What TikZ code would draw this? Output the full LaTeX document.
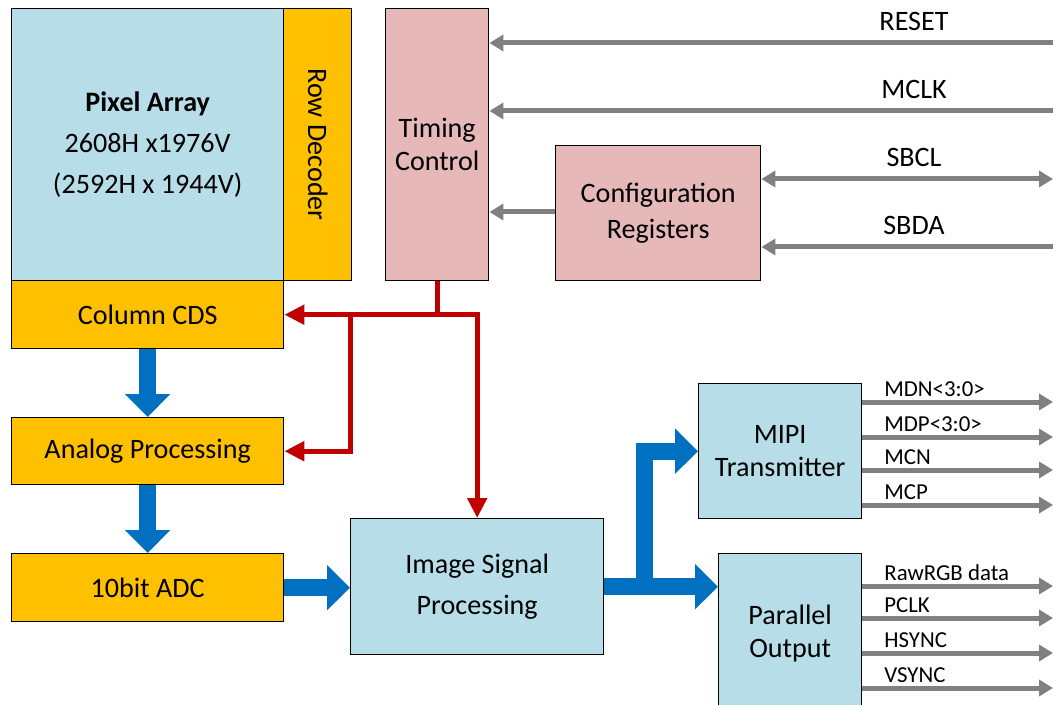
\documentclass[tikz,border=0pt]{standalone}
\usepackage{fontspec}
\setmainfont{Carlito}
\usepackage{graphicx}
\usetikzlibrary{arrows.meta, positioning, calc}

\definecolor{pixblue}{RGB}{183,221,232}
\definecolor{decgold}{RGB}{255,192,0}
\definecolor{regpink}{RGB}{230,184,183}
\definecolor{ctlred}{RGB}{192,0,0}
\definecolor{flowblue}{RGB}{0,112,192}
\definecolor{sigray}{RGB}{128,128,128}

\begin{document}
\begin{tikzpicture}[x=0.02cm, y=-0.02cm,
        block/.style={draw, line width=0.8pt, anchor=north west, align=center, inner sep=0pt, font=\fontsize{16}{19}\selectfont},
        analog/.style={block, fill=decgold},
        digital/.style={block, fill=pixblue},
        ctrl/.style={block, fill=regpink},
        flow/.style={draw=flowblue, line width=0.34cm, -{Triangle[width=0.88cm, length=0.46cm]}},
        ctl/.style={draw=ctlred, line width=0.1cm, -{Triangle[width=0.38cm, length=0.4cm]}},
        sig/.style={draw=sigray, line width=0.1cm, >={Triangle[width=0.32cm, length=0.28cm]}, ->},
        siglabel/.style={font=\fontsize{16}{19}\selectfont, inner sep=0pt, anchor=base},
        outlabel/.style={font=\fontsize{13}{15}\selectfont, inner sep=0pt, anchor=base west}
    ]
    \useasboundingbox (0,0) rectangle (1053,705);

    % Sensor core
    \node[digital, minimum width=5.44cm, minimum height=5.44cm, font=\fontsize{16}{23.5}\selectfont] (pix) at (11,8) {\textbf{Pixel Array}\\2608H x1976V\\(2592H x 1944V)};
    \node[analog, minimum width=1.36cm, minimum height=5.44cm] (rowdec) at (283,8) {\rotatebox{-90}{Row Decoder}};
    \node[analog, minimum width=5.44cm, minimum height=1.36cm] (cds) at (11,280) {Column CDS};
    \node[analog, minimum width=5.44cm, minimum height=1.34cm] (anp) at (11,417) {Analog Processing};
    \node[analog, minimum width=5.44cm, minimum height=1.36cm] (adc) at (11,553) {10bit ADC};

    % Control blocks
    \node[ctrl, minimum width=2.06cm, minimum height=5.44cm] (timing) at (385,8) {Timing\\Control};
    \node[ctrl, minimum width=4.10cm, minimum height=2.70cm, font=\fontsize{16}{20}\selectfont] (config) at (555,145) {Configuration\\Registers};

    % Image path
    \node[digital, minimum width=5.06cm, minimum height=2.72cm, font=\fontsize{16}{23}\selectfont] (isp) at (350,518) {Image Signal\\Processing};
    \node[digital, minimum width=3.26cm, minimum height=2.70cm] (mipi) at (698,383) {MIPI\\Transmitter};
    \node[digital, minimum width=2.86cm, minimum height=3.20cm] (par) at (718,553) {Parallel\\Output};

    % Data flow
    \draw[flow] (cds.south) -- (anp.north);
    \draw[flow] (anp.south) -- (adc.north);
    \draw[flow] (adc.east) -- (adc.east -| isp.west);
    \coordinate (fork) at (644,586);
    \draw[flow] (isp.east) -- (isp.east -| par.west);
    \draw[flow] (fork) |- (mipi.west);

    % Timing control lines
    \coordinate (tap) at (timing.south |- cds.east);
    \coordinate (split) at (isp.west |- cds.east);
    \draw[ctl] (timing.south) -- (tap) -- (cds.east);
    \draw[ctl] (tap) -| (isp.north);
    \draw[ctl] (split) |- (anp.east);

    % External inputs
    \coordinate (rst) at (1053,43);
    \coordinate (clk) at (1053,111);
    \coordinate (scl) at (1053,179);
    \coordinate (sda) at (1053,247);
    \coordinate (cfglvl) at (0,212);
    \draw[sig] (rst) -- (rst -| timing.east);
    \draw[sig] (clk) -- (clk -| timing.east);
    \draw[sig, <->] (config.east |- scl) -- (scl);
    \draw[sig] (sda) -- (sda -| config.east);
    \draw[sig] (config.west |- cfglvl) -- (timing.east |- cfglvl);
    \node[siglabel] (rstl) at (914,31) {RESET};
    \node[siglabel] (clkl) at (914,99) {MCLK};
    \node[siglabel] (scll) at (914,167) {SBCL};
    \node[siglabel] (sdal) at (914,235) {SBDA};

    % Outputs
    \foreach \yy/\txt [count=\i] in {402/MDN<3:0>, 437/MDP<3:0>, 470/MCN, 505/MCP} {
        \coordinate (mo\i) at (1053,\yy);
        \draw[sig] (mipi.east |- mo\i) -- (mo\i);
        \node[outlabel] (mol\i) at (884,\yy-6) {\txt};
    }
    \foreach \yy/\txt [count=\i] in {586/RawRGB data, 618/PCLK, 653/HSYNC, 688/VSYNC} {
        \coordinate (po\i) at (1053,\yy);
        \draw[sig] (par.east |- po\i) -- (po\i);
        \node[outlabel] (pol\i) at (884,\yy-6) {\txt};
    }

\end{tikzpicture}
\end{document}
